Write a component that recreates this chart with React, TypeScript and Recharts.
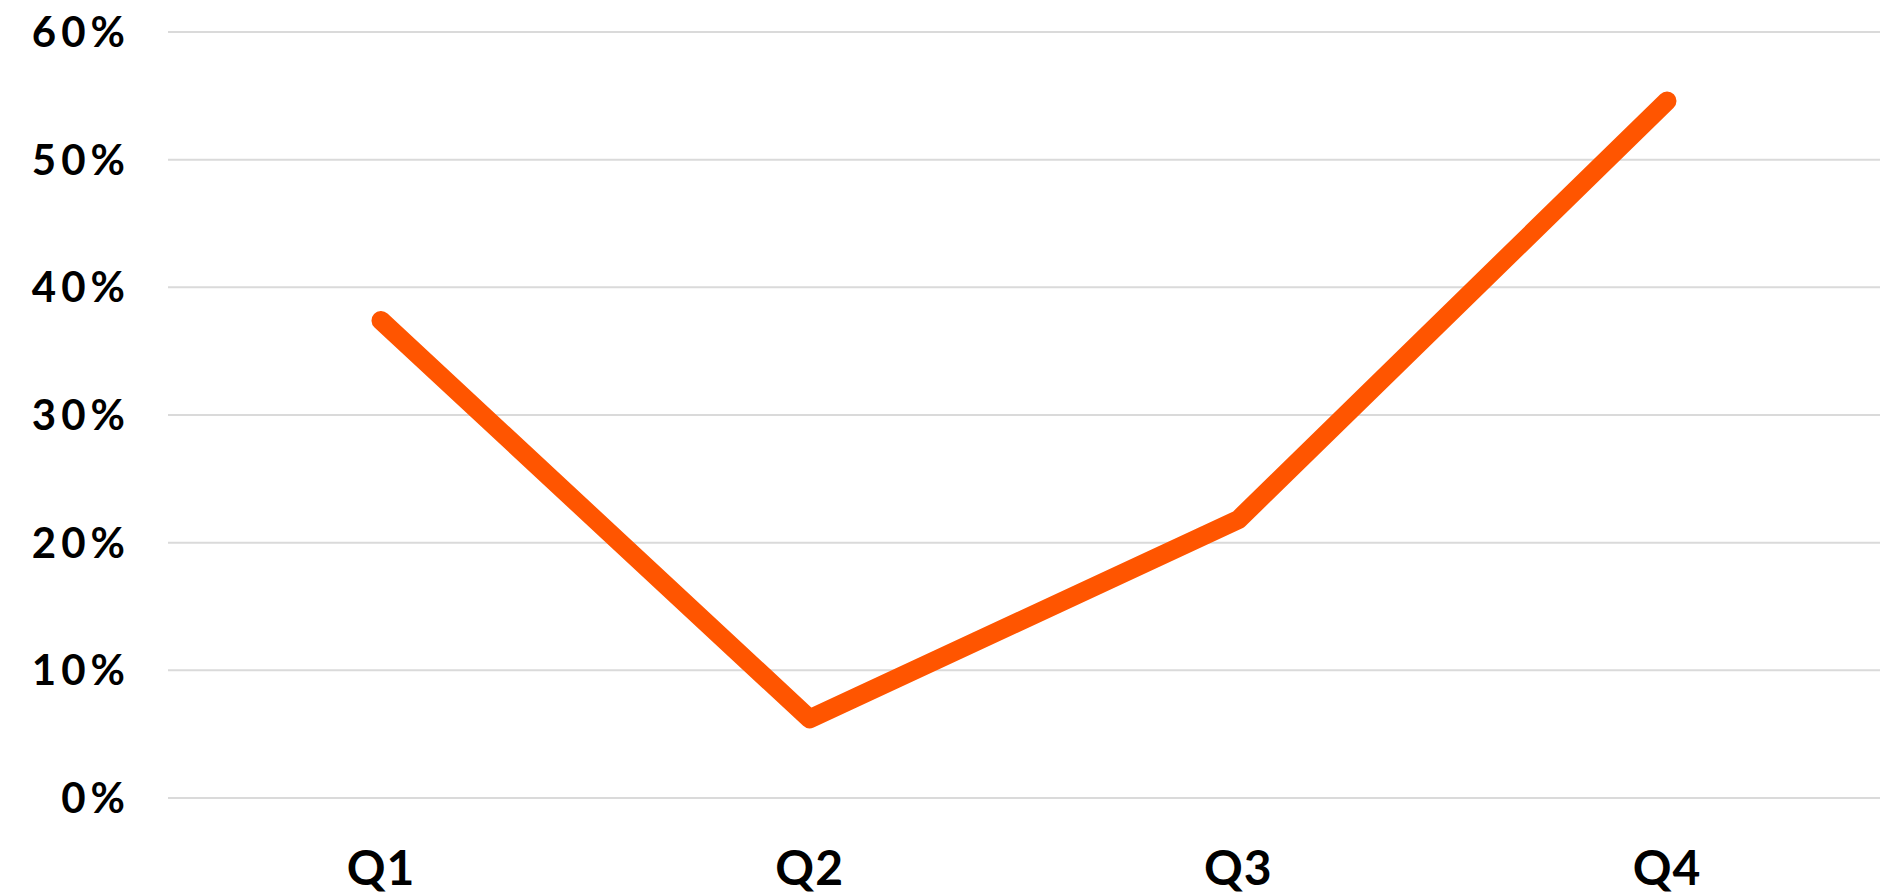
import React from 'react';
import { LineChart, Line, XAxis, YAxis, CartesianGrid } from 'recharts';

const categories = ['Q1', 'Q2', 'Q3', 'Q4'];
const values = [37.4, 6.2, 21.8, 54.6];
const yTicks = [0, 10, 20, 30, 40, 50, 60];

const data = categories.map((q, i) => ({ q, v: values[i] }));

export default function App() {
  return (
    <div style={{ position: 'absolute', left: 0, top: 0, background: '#fff' }}>
      <LineChart width={1888} height={896} data={data} margin={{ top: 32, right: 8, bottom: 0, left: 0 }}>
        <CartesianGrid vertical={false} stroke="#dadada" strokeWidth={2} />
        <XAxis
          dataKey="q"
          axisLine={false}
          tickLine={false}
          height={98}
          tickMargin={47}
          padding={{ left: 213, right: 213 }}
          tick={{ fill: '#000', fontSize: 48, fontWeight: 700, fontFamily: 'Lato', letterSpacing: 1 }}
        />
        <YAxis
          domain={[0, 60]}
          ticks={yTicks}
          axisLine={false}
          tickLine={false}
          width={168}
          tickMargin={32}
          tickFormatter={(t: number) => `${t}%`}
          tick={{ fill: '#000', fontSize: 42, fontWeight: 700, fontFamily: 'Lato', letterSpacing: 5 }}
        />
        <Line
          dataKey="v"
          stroke="#FF5500"
          strokeWidth={19}
          strokeLinecap="round"
          strokeLinejoin="round"
          dot={false}
          activeDot={false}
          isAnimationActive={false}
        />
      </LineChart>
    </div>
  );
}
